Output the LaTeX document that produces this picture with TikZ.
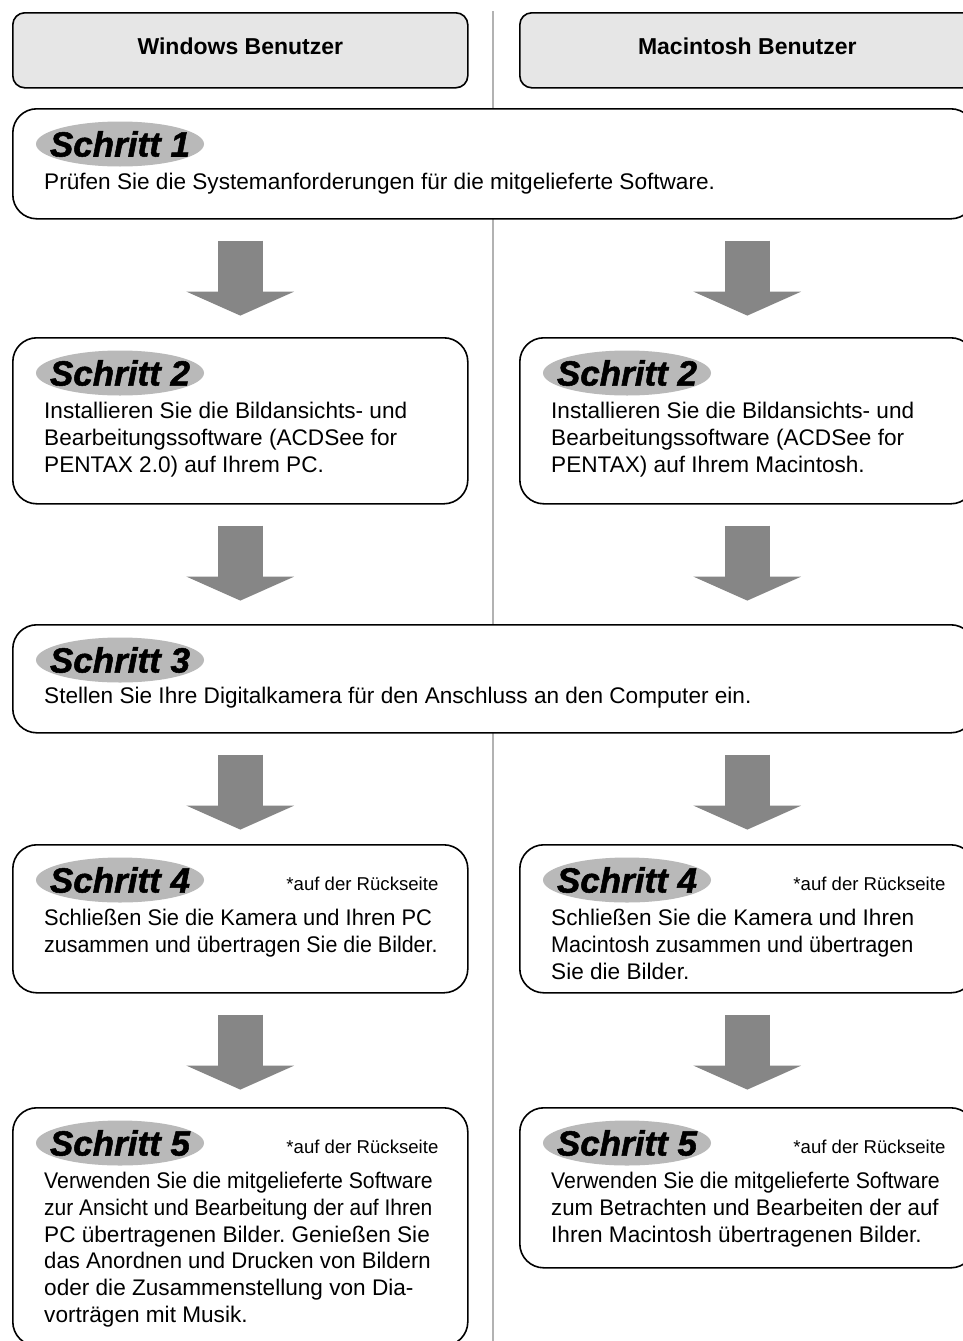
\documentclass[tikz,border=0pt]{standalone}
\usepackage{fontspec}
\usepackage{graphicx}
\setmainfont{Liberation Sans}
\newfontfamily\badgefont[BoldItalicFeatures={FakeBold=1.5}]{Liberation Sans}
\usetikzlibrary{arrows.meta,shapes.geometric,positioning,calc}
\frenchspacing

\definecolor{headgray}{RGB}{230,230,230}
\definecolor{badgegray}{RGB}{185,185,185}
\definecolor{arrowgray}{RGB}{134,134,134}
\definecolor{rulegray}{RGB}{178,178,178}

% squeeze one line of text horizontally
\newcommand{\narrow}[2]{\scalebox{#1}[1]{#2}}

\begin{document}
\begin{tikzpicture}[x=1pt, y=1pt,
	basic/.style   = {draw, line width=1.6pt, rectangle, anchor=north west, inner sep=0pt},
	head/.style    = {basic, rounded corners=12pt, fill=headgray, minimum width=455pt, minimum height=75pt, text depth=8pt, font=\fontsize{23}{27}\selectfont\bfseries},
	stepbox/.style = {basic, rounded corners=24pt, fill=white},
	half/.style    = {stepbox, minimum width=455pt},
	full/.style    = {stepbox, minimum width=962pt},
	badge/.style   = {ellipse, fill=badgegray, minimum width=168pt, minimum height=45pt, inner sep=0pt},
	badgetext/.style = {inner sep=0pt, font=\fontsize{35}{40}\badgefont\bfseries\itshape},
	body/.style    = {anchor=north west, inner sep=0pt, align=left, font=\fontsize{22.6}{26.8}\selectfont},
	note/.style    = {anchor=east, inner sep=0pt, font=\fontsize{18.6}{22}\selectfont},
	blockarrow/.style = {draw=arrowgray, line width=45pt, -{Triangle[width=107pt,length=24pt]}}]

	\useasboundingbox (0,0) rectangle (962,-1341);

	% divider between the two columns
	\coordinate (top) at (493,-11);
	\coordinate (bottom) at (493,-1341);
	\draw[rulegray, line width=1.2pt] (top) -- (bottom);

	% column heads
	\node[head] (hw) at (12,-12) {Windows Benutzer};
	\node[head] (hm) at (519,-12) {Macintosh Benutzer};

	% step boxes
	\node[full, minimum height=110pt] (s1) at (12,-108) {};
	\node[half, minimum height=166pt] (w2) at (12,-337) {};
	\node[half, minimum height=166pt] (m2) at (519,-337) {};
	\node[full, minimum height=108pt] (s3) at (12,-624) {};
	\node[half, minimum height=148pt] (w4) at (12,-844) {};
	\node[half, minimum height=148pt] (m4) at (519,-844) {};
	\node[half, minimum height=238pt] (w5) at (12,-1107) {};
	\node[half, minimum height=160pt] (m5) at (519,-1107) {};

	% step badges
	\foreach \stepname/\num in {s1/1, w2/2, m2/2, s3/3, w4/4, m4/4, w5/5, m5/5}{
		\node[badge] (b\stepname) at ($(\stepname.north west)+(108,-36)$) {};
		\node[badgetext] at (b\stepname) {Schritt \num};
	}

	% texts of the steps
	\node[body] (t1) at ($(s1.north west)+(32,-65)$) {Prüfen Sie die Systemanforderungen für die mitgelieferte Software.};
	\node[body] (tw2) at ($(w2.north west)+(32,-65)$) {Installieren Sie die Bildansichts- und\\Bearbeitungssoftware (ACDSee for\\PENTAX 2.0) auf Ihrem PC.};
	\node[body] (tm2) at ($(m2.north west)+(32,-65)$) {Installieren Sie die Bildansichts- und\\Bearbeitungssoftware (ACDSee for\\PENTAX) auf Ihrem Macintosh.};
	\node[body] (t3) at ($(s3.north west)+(32,-63)$) {Stellen Sie Ihre Digitalkamera für den Anschluss an den Computer ein.};
	\node[body] (tw4) at ($(w4.north west)+(32,-65)$) {\narrow{0.968}{Schließen Sie die Kamera und Ihren PC}\\\narrow{0.949}{zusammen und übertragen Sie die Bilder.}};
	\node[body] (tm4) at ($(m4.north west)+(32,-65)$) {Schließen Sie die Kamera und Ihren\\\narrow{0.955}{Macintosh zusammen und übertragen}\\Sie die Bilder.};
	\node[body] (tw5) at ($(w5.north west)+(32,-65)$) {\narrow{0.94}{Verwenden Sie die mitgelieferte Software}\\\narrow{0.928}{zur Ansicht und Bearbeitung der auf Ihren}\\PC übertragenen Bilder. Genießen Sie\\\narrow{0.98}{das Anordnen und Drucken von Bildern}\\oder die Zusammenstellung von Dia-\\vorträgen mit Musik.};
	\node[body] (tm5) at ($(m5.north west)+(32,-65)$) {\narrow{0.94}{Verwenden Sie die mitgelieferte Software}\\\narrow{0.982}{zum Betrachten und Bearbeiten der auf}\\Ihren Macintosh übertragenen Bilder.};

	% back-page notes
	\foreach \stepname in {w4, m4, w5, m5}
	\node[note] at ($(\stepname.north east)+(-30,-40)$) {*auf der Rückseite};

	% arrows between the steps
	\coordinate (colw) at (hw.south);
	\coordinate (colm) at (hm.south);
	\foreach \col/\from in {colw/s1, colm/s1, colw/w2, colm/m2, colw/s3, colm/s3, colw/w4, colm/m4}
	\draw[blockarrow] ($(\col |- \from.south)+(0,-21)$) -- ++(0,-75);

\end{tikzpicture}
\end{document}
